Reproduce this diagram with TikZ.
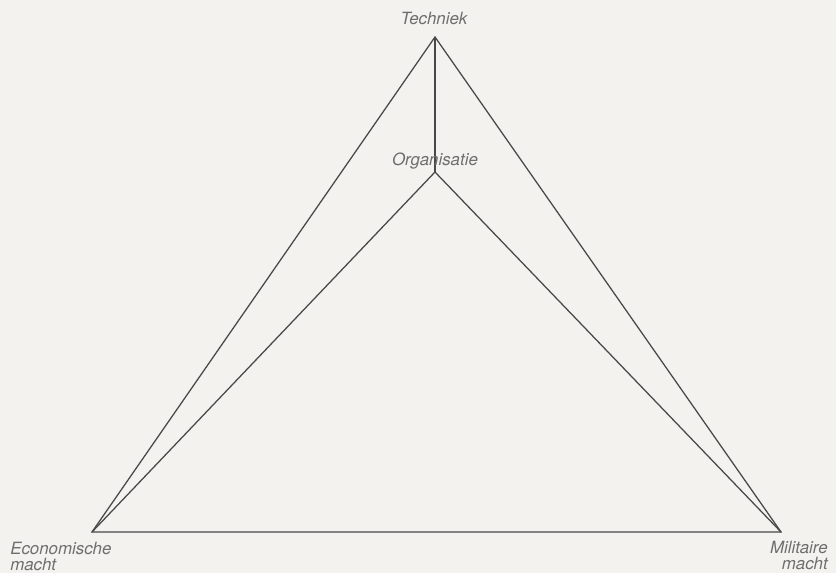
\documentclass[tikz,border=0pt]{standalone}
\usepackage{fontspec}
\setmainfont{TeX Gyre Heros}
\usetikzlibrary{positioning}
\definecolor{paper}{RGB}{243,242,239}
\definecolor{pencil}{RGB}{72,72,72}
\definecolor{faded}{RGB}{110,110,110}
\tikzset{
  edge/.style={draw=pencil,line width=0.9pt,line join=miter},
  lbl/.style={text=faded,font=\fontsize{12}{11.5}\selectfont\itshape,inner sep=0pt},
}
\begin{document}
\begin{tikzpicture}[x=0.025cm,y=0.025cm]
  \fill[paper] (0,0) rectangle (836,573);
  \useasboundingbox (0,0) rectangle (836,573);
  % corners of the triangle
  \coordinate (tech) at (435,536);
  \coordinate (org) at (435,401);
  \coordinate (econ) at (92,41);
  \coordinate (mil) at (781,41);
  % triangle and spokes
  \draw[edge] (tech) -- (econ) -- (mil) -- cycle;
  \draw[edge] (tech) -- (org);
  \draw[edge] (econ) -- (org) -- (mil);
  % labels
  \node[lbl,anchor=base] (techlbl) at (434,548) {Techniek};
  \node[lbl,anchor=base] (orglbl) at (435,407) {Organisatie};
  \node[lbl,anchor=north west,align=left] (econlbl) at (10,31) {Economische\\macht};
  \node[lbl,anchor=north east,align=right] (millbl) at (828,32) {Militaire\\macht};
\end{tikzpicture}
\end{document}
